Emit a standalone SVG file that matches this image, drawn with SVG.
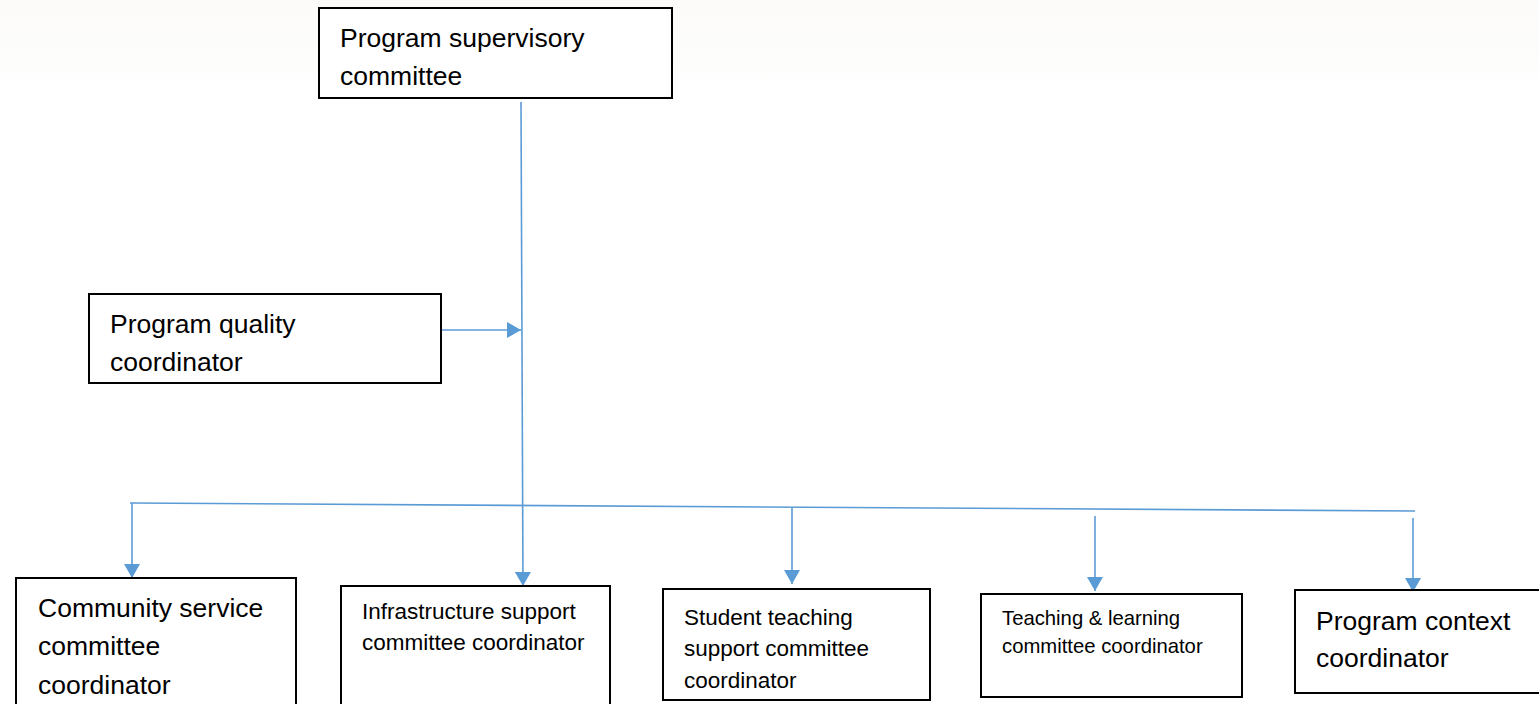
<svg xmlns="http://www.w3.org/2000/svg" width="1539" height="704" viewBox="0 0 1539 704">
  <style>
    .box { fill: #ffffff; stroke: #000000; stroke-width: 2; }
    .lbl { font-family: "Liberation Sans", Arial, sans-serif; fill: #000000; }
    .big { font-size: 26.5px; }
    .mid { font-size: 22.5px; }
    .small { font-size: 20.3px; }
    .wire { fill: none; stroke: #5B9BD5; stroke-width: 1.6; }
  </style>
  <defs>
    <marker id="arrow" viewBox="0 0 14 16" refX="14" refY="8" markerWidth="14" markerHeight="16" markerUnits="userSpaceOnUse" orient="auto">
      <path d="M0,0 L14,8 L0,16 Z" fill="#5B9BD5"/>
    </marker>
    <linearGradient id="topwash" x1="0" y1="0" x2="0" y2="1">
      <stop offset="0" stop-color="#fcfbf9"/>
      <stop offset="0.7" stop-color="#fdfdfc"/>
      <stop offset="1" stop-color="#ffffff"/>
    </linearGradient>
  </defs>

  <rect x="0" y="0" width="1539" height="704" fill="#ffffff"/>
  <rect x="0" y="0" width="1539" height="90" fill="url(#topwash)"/>

  <!-- connectors -->
  <g id="connectors">
    <path class="wire" d="M521,102 L523,586" marker-end="url(#arrow)"/>
    <path class="wire" d="M441,330 L521,330" marker-end="url(#arrow)"/>
    <path class="wire" d="M130,503 L1415,511"/>
    <path class="wire" d="M132,503 L132,578" marker-end="url(#arrow)"/>
    <path class="wire" d="M792,508 L792,584" marker-end="url(#arrow)"/>
    <path class="wire" d="M1095,516 L1095,591" marker-end="url(#arrow)"/>
    <path class="wire" d="M1413,518 L1413,592" marker-end="url(#arrow)"/>
  </g>

  <!-- nodes -->
  <g id="supervisory">
    <rect class="box" x="319" y="8" width="353" height="90"/>
    <text class="lbl big" x="340" y="47">Program supervisory</text>
    <text class="lbl big" x="340" y="85">committee</text>
  </g>

  <g id="quality">
    <rect class="box" x="89" y="294" width="352" height="89"/>
    <text class="lbl big" x="110" y="333">Program quality</text>
    <text class="lbl big" x="110" y="371">coordinator</text>
  </g>

  <g id="community">
    <rect class="box" x="16" y="578" width="280" height="140"/>
    <text class="lbl big" x="38" y="617">Community service</text>
    <text class="lbl big" x="38" y="655">committee</text>
    <text class="lbl big" x="38" y="694">coordinator</text>
  </g>

  <g id="infrastructure">
    <rect class="box" x="341" y="586" width="269" height="130"/>
    <text class="lbl mid" x="362" y="619">Infrastructure support</text>
    <text class="lbl mid" x="362" y="650">committee coordinator</text>
  </g>

  <g id="student">
    <rect class="box" x="663" y="589" width="267" height="111"/>
    <text class="lbl mid" x="684" y="625">Student teaching</text>
    <text class="lbl mid" x="684" y="656">support committee</text>
    <text class="lbl mid" x="684" y="688">coordinator</text>
  </g>

  <g id="teaching">
    <rect class="box" x="981" y="594" width="261" height="103"/>
    <text class="lbl small" x="1002" y="625">Teaching &amp; learning</text>
    <text class="lbl small" x="1002" y="653">committee coordinator</text>
  </g>

  <g id="context">
    <rect class="box" x="1295" y="590" width="250" height="103"/>
    <text class="lbl big" x="1316" y="630">Program context</text>
    <text class="lbl big" x="1316" y="667">coordinator</text>
  </g>
</svg>
